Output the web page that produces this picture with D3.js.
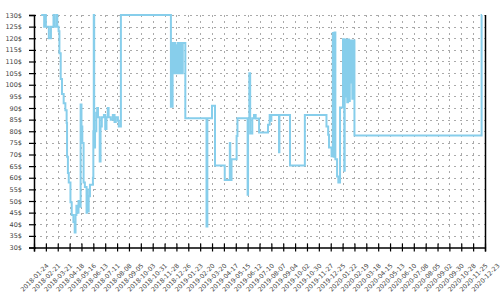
<!DOCTYPE html>
<html>
<head>
<meta charset="utf-8">
<script src="https://cdn.jsdelivr.net/npm/d3@7"></script>
<style>
  html, body { margin: 0; padding: 0; background: #fff; }
  svg { display: block; }
</style>
</head>
<body>
<svg id="chart" width="500" height="300"></svg>
<script>
// ---- data ----
const dates = [
  "2018-02-10","2018-02-17","2018-02-19","2018-02-21","2018-02-28","2018-03-05","2018-03-11","2018-03-13",
  "2018-03-18","2018-03-20","2018-03-23","2018-03-25","2018-03-28","2018-03-31","2018-04-04","2018-04-08",
  "2018-04-11","2018-04-12","2018-04-14","2018-04-16","2018-04-20","2018-04-23","2018-04-27","2018-04-30",
  "2018-05-02","2018-05-04","2018-05-06","2018-05-09","2018-05-11","2018-05-14","2018-05-16","2018-05-18",
  "2018-05-21","2018-05-24","2018-05-28","2018-05-29","2018-05-31","2018-06-02","2018-06-05","2018-06-12",
  "2018-06-13","2018-06-14","2018-06-15","2018-06-17","2018-06-20","2018-06-22","2018-06-24","2018-06-28",
  "2018-06-30","2018-07-03","2018-07-08","2018-07-11","2018-07-14","2018-07-17","2018-07-19","2018-07-24",
  "2018-07-29","2018-08-02","2018-08-05","2018-08-10","2018-08-12","2018-08-17","2018-12-13","2018-12-17",
  "2018-12-19","2018-12-21","2018-12-23","2018-12-25","2018-12-27","2018-12-29","2018-12-31","2019-01-02",
  "2019-01-04","2019-01-06","2019-01-08","2019-01-10","2019-01-16","2019-03-07","2019-03-09","2019-03-20",
  "2019-03-27","2019-04-19","2019-05-01","2019-05-02","2019-05-05","2019-05-17","2019-05-19","2019-06-12",
  "2019-06-13","2019-06-16","2019-06-18","2019-06-23","2019-06-27","2019-07-01","2019-07-09","2019-07-30",
  "2019-08-03","2019-08-05","2019-08-07","2019-08-25","2019-08-26","2019-09-20","2019-10-25","2019-12-15",
  "2019-12-19","2019-12-21","2019-12-27","2019-12-30","2020-01-01","2020-01-03","2020-01-05","2020-01-09",
  "2020-01-12","2020-01-16","2020-01-23","2020-01-25","2020-01-26","2020-01-27","2020-01-29","2020-01-31",
  "2020-02-02","2020-02-04","2020-02-06","2020-02-08","2020-02-10","2020-02-12","2020-02-14","2020-02-17",
  "2020-02-19","2020-12-15","2020-12-16"
];
const prices = [
  130,125,130,125,120,125,130,125,
  130,125,123,113.5,102.5,96,92,89,
  83.5,69,62,58,49.5,44,41,36.5,
  44,48,45,50,47.5,91.5,82,75,
  58,56,45,55,45.5,52,57,60,
  80,130,73,80,88,90,86,67,
  82,86,87,81,86,90,86,85,
  87,84,86,84.5,82,130,90.5,118,
  105,118,105,117,105,118,105,118,
  105,118,105,118,85.6,39,85.6,91,
  65.3,59,75,59,68,78,85.6,52.7,
  85.6,105,79,85.6,87,85.5,79.5,82.8,
  87,84.5,87,71,87,65.3,87,82,
  78.5,73,69.2,122.3,69,122.5,68,60.5,
  58,90.2,119.6,93,63,119.5,95,119.5,
  92.5,119.5,93,119,101,119,94,119,
  78.2,130,130
];
const xTickLabels = [
  "2018-01-24","2018-02-21","2018-03-21","2018-04-18","2018-05-16","2018-06-13","2018-07-11","2018-08-08",
  "2018-09-05","2018-10-03","2018-10-31","2018-11-28","2018-12-26","2019-01-23","2019-02-20","2019-03-20",
  "2019-04-17","2019-05-15","2019-06-12","2019-07-10","2019-08-07","2019-09-04","2019-10-02","2019-10-30",
  "2019-11-27","2019-12-25","2020-01-22","2020-02-19","2020-03-18","2020-04-15","2020-05-13","2020-06-10",
  "2020-07-08","2020-08-05","2020-09-02","2020-09-30","2020-10-28","2020-11-25","2020-12-23"
];
const yTickValues = [30,35,40,45,50,55,60,65,70,75,80,85,90,95,100,105,110,115,120,125,130];
const currency = "$";

// ---- chart ----
const parse = d3.timeParse("%Y-%m-%d");
const fmt = d3.timeFormat("%Y-%m-%d");
const series = dates.map((d, i) => ({ date: parse(d), price: prices[i] }));
const xTicks = xTickLabels.map(parse);

const margin = { left: 34, right: 15, top: 15, bottom: 52.5 };
const W = 500, H = 300;
const svg = d3.select("#chart");

const x = d3.scaleTime()
  .domain([xTicks[0], xTicks[xTicks.length - 1]])
  .range([margin.left, W - margin.right]);
const y = d3.scaleLinear()
  .domain([30, 130])
  .range([H - margin.bottom, margin.top]);

// grid
const grid = svg.append("g").attr("class", "grid");
grid.selectAll("line.h").data(yTickValues.slice(1)).join("line")
  .attr("x1", margin.left).attr("x2", W - margin.right)
  .attr("y1", d => Math.round(y(d)) + 0.5).attr("y2", d => Math.round(y(d)) + 0.5)
  .attr("stroke", "#aaa").attr("stroke-width", 1).attr("stroke-dasharray", "2,4");
grid.selectAll("line.v").data(xTicks.slice(1, -1)).join("line")
  .attr("x1", d => Math.round(x(d)) + 0.5).attr("x2", d => Math.round(x(d)) + 0.5)
  .attr("y1", margin.top).attr("y2", H - margin.bottom)
  .attr("stroke", "#aaa").attr("stroke-width", 1).attr("stroke-dasharray", "2,4");

// line
const line = d3.line()
  .x(d => x(d.date))
  .y(d => y(d.price))
  .curve(d3.curveStepAfter);
svg.append("path")
  .datum(series)
  .attr("fill", "none")
  .attr("stroke", "#87CEEB")
  .attr("stroke-width", 2)
  .attr("d", line);

// right border
svg.append("line")
  .attr("x1", W - margin.right + 0.5).attr("x2", W - margin.right + 0.5)
  .attr("y1", margin.top).attr("y2", H - margin.bottom)
  .attr("stroke", "#000").attr("stroke-width", 1.5);

// y axis
const yAxis = svg.append("g")
  .attr("transform", `translate(${margin.left},0)`)
  .call(d3.axisLeft(y).tickValues(yTickValues).tickFormat(d => d + currency).tickSize(5).tickPadding(7));
yAxis.select(".domain").attr("stroke", "#000").attr("stroke-width", 1.5);
yAxis.selectAll(".tick line").attr("x1", 2).attr("stroke-width", 1.2);
yAxis.selectAll(".tick text")
  .attr("font-family", "DejaVu Sans, sans-serif")
  .attr("font-size", 6.5)
  .attr("fill", "#444");

// x axis
const xAxis = svg.append("g")
  .attr("transform", `translate(0,${H - margin.bottom})`)
  .call(d3.axisBottom(x).tickValues(xTicks).tickFormat(fmt).tickSize(4));
xAxis.select(".domain").attr("stroke", "#000").attr("stroke-width", 1.5);
xAxis.selectAll(".tick line").attr("y1", -4).attr("stroke-width", 1.2);
xAxis.selectAll(".tick text")
  .attr("font-family", "DejaVu Sans, sans-serif")
  .attr("font-size", 6.3)
  .attr("fill", "#444")
  .attr("text-anchor", "middle")
  .attr("transform", "translate(0,30) rotate(-45)")
  .attr("y", 0).attr("dy", "0.35em");
</script>
</body>
</html>
